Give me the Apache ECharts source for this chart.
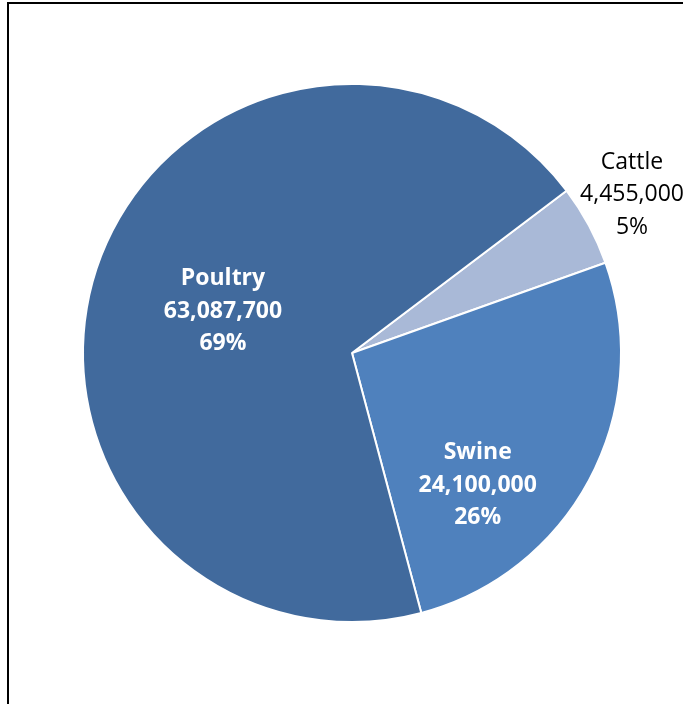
<!DOCTYPE html>
<html>
<head>
<meta charset="utf-8">
<script src="https://cdn.jsdelivr.net/npm/echarts@6/dist/echarts.min.js"></script>
<style>
  html, body { margin: 0; padding: 0; background: #fff; }
  #chart { width: 683px; height: 704px; }
</style>
</head>
<body>
<div id="chart"></div>
<script>
// Livestock head counts by type
const categories = ['Cattle', 'Swine', 'Poultry'];
const headCounts = [4455000, 24100000, 63087700];
const sliceColors = ['#a9b9d7', '#4f81bd', '#416a9d'];

const total = headCounts.reduce((a, b) => a + b, 0);
const fmt = v => v.toLocaleString('en-US');

// per-slice label styling (Excel-like manual placement)
const labelStyles = [
  { color: '#000', fontWeight: 'normal', offset: [159, -93] },
  { color: '#fff', fontWeight: 'bold', offset: [4, 68] },
  { color: '#fff', fontWeight: 'bold', offset: [1, 3] }
];

const data = categories.map((name, i) => ({
  name,
  value: headCounts[i],
  itemStyle: { color: sliceColors[i] },
  label: {
    color: labelStyles[i].color,
    fontWeight: labelStyles[i].fontWeight,
    offset: labelStyles[i].offset
  }
}));

const chart = echarts.init(document.getElementById('chart'), null, { renderer: 'canvas' });
chart.setOption({
  animation: false,
  backgroundColor: '#fff',
  graphic: [{
    type: 'rect',
    shape: { x: 8, y: 3, width: 720, height: 740 },
    style: { fill: 'none', stroke: '#000', lineWidth: 2 },
    silent: true,
    z: 100
  }],
  series: [{
    type: 'pie',
    center: [352, 353],
    radius: [0, 269],
    startAngle: 37.1,
    clockwise: true,
    data,
    itemStyle: { borderColor: '#fff', borderWidth: 2 },
    labelLine: { show: false },
    label: {
      show: true,
      position: 'inside',
      fontFamily: 'Open Sans',
      fontSize: 23,
      lineHeight: 32.5,
      align: 'center',
      formatter: p => p.name + '\n' + fmt(p.value) + '\n' + Math.round(p.value / total * 100) + '%'
    },
    emphasis: { disabled: true }
  }]
});
</script>
</body>
</html>
